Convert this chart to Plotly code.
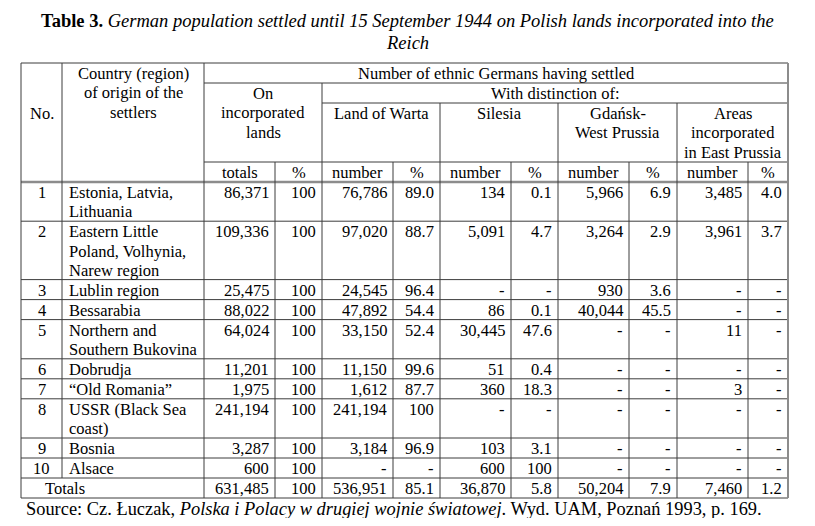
import plotly.graph_objects as go

# ---------------- data ----------------
title_bold = "Table 3."
title_line1 = "German population settled until 15 September 1944 on Polish lands incorporated into the"
title_line2 = "Reich"

row_no = ["1", "2", "3", "4", "5", "6", "7", "8", "9", "10"]
countries = [
    "Estonia, Latvia,\nLithuania",
    "Eastern Little\nPoland, Volhynia,\nNarew region",
    "Lublin region",
    "Bessarabia",
    "Northern and\nSouthern Bukovina",
    "Dobrudja",
    "\u201cOld Romania\u201d",
    "USSR (Black Sea\ncoast)",
    "Bosnia",
    "Alsace",
]
totals = [86371, 109336, 25475, 88022, 64024, 11201, 1975, 241194, 3287, 600]
totals_pct = [100, 100, 100, 100, 100, 100, 100, 100, 100, 100]
warta_num = [76786, 97020, 24545, 47892, 33150, 11150, 1612, 241194, 3184, None]
warta_pct = [89.0, 88.7, 96.4, 54.4, 52.4, 99.6, 87.7, 100, 96.9, None]
silesia_num = [134, 5091, None, 86, 30445, 51, 360, None, 103, 600]
silesia_pct = [0.1, 4.7, None, 0.1, 47.6, 0.4, 18.3, None, 3.1, 100]
gdansk_num = [5966, 3264, 930, 40044, None, None, None, None, None, None]
gdansk_pct = [6.9, 2.9, 3.6, 45.5, None, None, None, None, None, None]
eprussia_num = [3485, 3961, None, None, 11, None, 3, None, None, None]
eprussia_pct = [4.0, 3.7, None, None, None, None, None, None, None, None]

totals_label = "Totals"
totals_row_num = [631485, 536951, 36870, 50204, 7460]
totals_row_pct = [100, 85.1, 5.8, 7.9, 1.2]

hdr_no = "No."
hdr_country = "Country (region)\nof origin of the\nsettlers"
hdr_top = "Number of ethnic Germans having settled"
hdr_incorp = "On\nincorporated\nlands"
hdr_distinct = "With distinction of:"
hdr_regions = ["Land of Warta", "Silesia", "Gda\u0144sk-\nWest Prussia", "Areas\nincorporated\nin East Prussia"]
hdr_sub = ["totals", "%", "number", "%", "number", "%", "number", "%", "number", "%"]

source_html = ("Source: Cz. \u0141uczak, <i>Polska i Polacy w drugiej wojnie \u015bwiatowej</i>. "
               "Wyd. UAM, Pozna\u0144 1993, p. 169.")

# ---------------- layout constants ----------------
W, H = 815, 526
BODY_MARGIN = 8  # default page margin around the plot div
FONT = "Liberation Serif, Times New Roman, serif"
FS = 16.5
TFS = 18.5
LINE = 19.2
PAD = 0.8
COL = [21, 62, 204, 275, 322, 393, 440, 511, 558, 629, 677, 748, 788]
HY = [63, 83, 103, 162, 182]  # header band tops / header bottom
DARK = "#3c3c3c"
GREY = "#8c8c8c"


def fmt_num(v):
    return "-" if v is None else f"{v:,}"


def fmt_pct(v):
    if v is None:
        return "-"
    if v == 100:
        return "100"
    return f"{v:.1f}"


annotations = []
shapes = []


def put(x, ytop, text, align="center", size=FS, off=10.6):
    for i, ln in enumerate(text.split("\n")):
        annotations.append(dict(
            x=x, y=ytop + off + i * 19.3, xref="x", yref="y",
            text=ln, showarrow=False, xanchor=align, yanchor="middle",
            borderpad=0, borderwidth=0,
            font=dict(family=FONT, size=size, color="black"),
        ))


def hline(y, x0, x1, color=DARK, w=1):
    shapes.append(dict(type="line", xref="x", yref="y", x0=x0, x1=x1, y0=y, y1=y,
                       line=dict(color=color, width=w)))


def vline(x, y0, y1, color=DARK, w=1):
    shapes.append(dict(type="line", xref="x", yref="y", x0=x, x1=x, y0=y0, y1=y1,
                       line=dict(color=color, width=w)))


def cx(i, j):
    return (COL[i] + COL[j]) / 2


# row geometry derived from line counts
n_lines = [c.count("\n") + 1 for c in countries]
row_tops = []
y = HY[4]
for n in n_lines:
    row_tops.append(y)
    y += LINE * n + PAD
totals_top = y
table_bottom = totals_top + LINE + PAD

# ---------------- header text ----------------
put(cx(0, 1), HY[0], hdr_no, off=50)
put(cx(1, 2), HY[0], hdr_country)
put(cx(2, 12), HY[0], hdr_top)
put(cx(2, 4), HY[1], hdr_incorp)
put(cx(4, 12), HY[1], hdr_distinct)
for k, t in enumerate(hdr_regions):
    put(cx(4 + 2 * k, 6 + 2 * k), HY[2], t)
for k, t in enumerate(hdr_sub):
    put(cx(2 + k, 3 + k), HY[3], t)

# ---------------- body text ----------------
cols = [totals, totals_pct, warta_num, warta_pct, silesia_num, silesia_pct,
        gdansk_num, gdansk_pct, eprussia_num, eprussia_pct]
for r in range(len(row_no)):
    t = row_tops[r]
    put(cx(0, 1), t, row_no[r])
    put(COL[1] + 7, t, countries[r], align="left")
    for k, col in enumerate(cols):
        s = fmt_pct(col[r]) if k % 2 else fmt_num(col[r])
        put(COL[3 + k] - 6, t, s, align="right")

put(COL[0] + 24, totals_top, totals_label, align="left")
for k in range(5):
    put(COL[3 + 2 * k] - 6, totals_top, fmt_num(totals_row_num[k]), align="right")
    put(COL[4 + 2 * k] - 6, totals_top, fmt_pct(totals_row_pct[k]), align="right")

# ---------------- grid lines ----------------
hline(HY[0], COL[0], COL[12])
hline(HY[1], COL[2], COL[12])
hline(HY[2], COL[4], COL[12])
hline(HY[3], COL[2], COL[12])
hline(HY[4], COL[0], COL[12], color=GREY, w=2.5)
for t in row_tops[1:]:
    hline(t, COL[0], COL[12])
hline(totals_top, COL[0], COL[12])
hline(table_bottom, COL[0], COL[12])

v_start = {0: HY[0], 1: HY[0], 2: HY[0], 3: HY[3], 4: HY[1], 5: HY[3], 6: HY[2],
           7: HY[3], 8: HY[2], 9: HY[3], 10: HY[2], 11: HY[3], 12: HY[0]}
for i, x in enumerate(COL):
    y1 = totals_top if i == 1 else table_bottom
    if i == 12:
        vline(x, v_start[i], y1, color=GREY, w=2)
    else:
        vline(x, v_start[i], y1)

# ---------------- title & source ----------------
annotations.append(dict(
    x=407, y=21, xref="x", yref="y", showarrow=False, xanchor="center", yanchor="middle",
    text=f"<b>{title_bold}</b> <i>{title_line1}</i>",
    font=dict(family=FONT, size=TFS, color="black")))
annotations.append(dict(
    x=407, y=43, xref="x", yref="y", showarrow=False, xanchor="center", yanchor="middle",
    text=f"<i>{title_line2}</i>",
    font=dict(family=FONT, size=TFS, color="black")))
annotations.append(dict(
    x=26, y=509, xref="x", yref="y", showarrow=False, xanchor="left", yanchor="middle",
    text=source_html, borderpad=0, borderwidth=0,
    font=dict(family=FONT, size=18.4, color="black")))

# The plot div sits inside the page's default 8px margin; map page pixels onto the axes
M = BODY_MARGIN
fig = go.Figure()
fig.update_layout(
    width=W - 2 * M, height=H - 2 * M,
    margin=dict(l=0, r=0, t=0, b=0),
    paper_bgcolor="white", plot_bgcolor="white",
    xaxis=dict(range=[M, W - M], visible=False, fixedrange=True),
    yaxis=dict(range=[H - M, M], visible=False, fixedrange=True),
    shapes=shapes, annotations=annotations, showlegend=False,
)
fig.write_html("out.html")
